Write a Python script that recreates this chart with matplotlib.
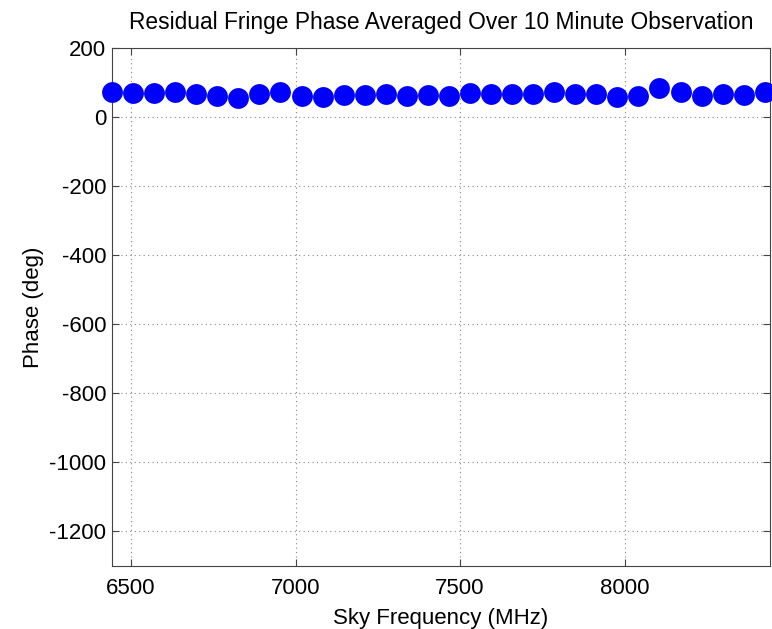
import matplotlib
matplotlib.use('Agg')
import matplotlib.pyplot as plt

# sky frequencies (MHz) and averaged residual phase (deg)
freq_mhz = [6442, 6506, 6570, 6634, 6698, 6762, 6826, 6890,
            6954, 7018, 7082, 7146, 7210, 7274, 7338, 7402,
            7466, 7530, 7594, 7658, 7722, 7786, 7850, 7914,
            7978, 8042, 8106, 8170, 8234, 8298, 8362, 8426]
phase_deg = [72, 69, 71, 72, 68, 60, 55, 66,
             72, 60, 58, 63, 63, 66, 61, 63,
             61, 71, 66, 68, 68, 74, 68, 66,
             58, 61, 84, 72, 61, 66, 63, 74]

xticks = [6500, 7000, 7500, 8000]
yticks = [200, 0, -200, -400, -600, -800, -1000, -1200]

plt.rcParams['font.family'] = ['Liberation Sans', 'DejaVu Sans']
plt.rcParams['axes.unicode_minus'] = False

fig = plt.figure(figsize=(7.72, 6.29), dpi=100)
ax = fig.add_axes([0.1451, 0.1002, 0.8523, 0.8235])

ax.plot(freq_mhz, phase_deg, 'o', color='#0000ff', markersize=15,
        markeredgewidth=0, clip_on=False, zorder=3)

ax.set_xlim(6442, 8442)
ax.set_ylim(-1300, 200)
ax.set_xticks(xticks)
ax.set_yticks(yticks)
ax.grid(True, linestyle=(0, (1, 3)), color='#888888', linewidth=0.8)
ax.tick_params(direction='in', top=True, right=True, length=5,
               labelsize=16, color='#444444')
ax.tick_params(axis='x', pad=9)
ax.tick_params(axis='y', pad=4)
for s in ax.spines.values():
    s.set_color('#444444')

ax.set_xlabel('Sky Frequency (MHz)', fontsize=16, labelpad=6)
ax.set_ylabel('Phase (deg)', fontsize=16, labelpad=4)
ax.set_title('Residual Fringe Phase Averaged Over 10 Minute Observation',
             fontsize=16.4, pad=14)

fig.savefig('out.png', dpi=100)
